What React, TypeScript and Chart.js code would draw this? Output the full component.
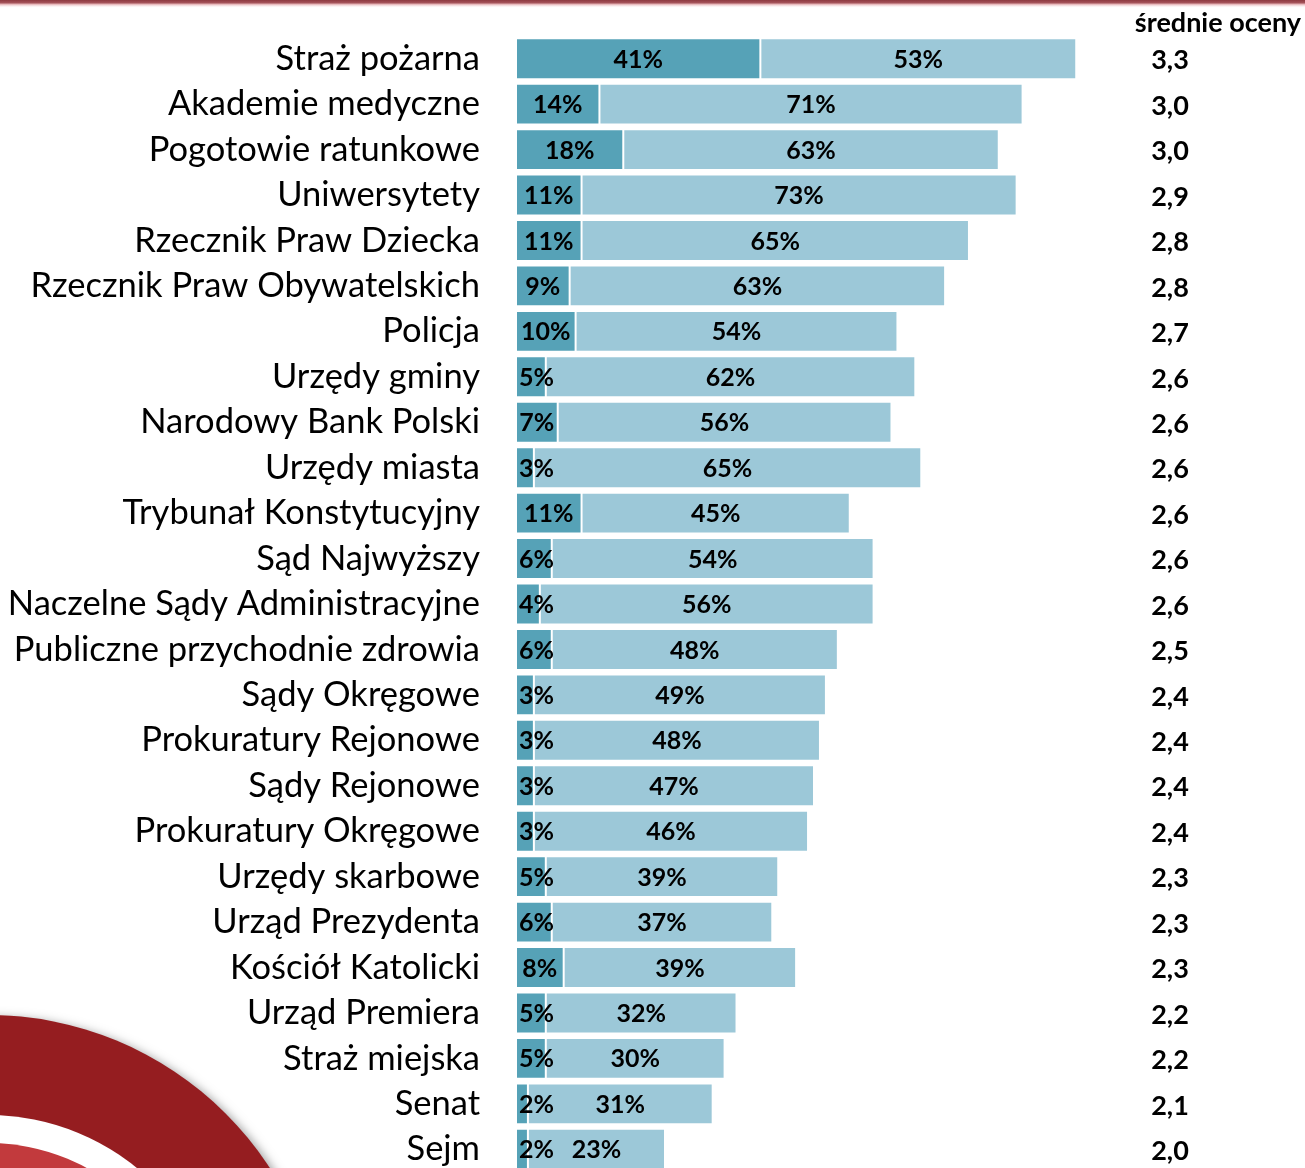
import React, { useEffect, useRef } from "react";
import { Chart, registerables } from "chart.js";

Chart.register(...registerables);

const categories = [
  "Straż pożarna",
  "Akademie medyczne",
  "Pogotowie ratunkowe",
  "Uniwersytety",
  "Rzecznik Praw Dziecka",
  "Rzecznik Praw Obywatelskich",
  "Policja",
  "Urzędy gminy",
  "Narodowy Bank Polski",
  "Urzędy miasta",
  "Trybunał Konstytucyjny",
  "Sąd Najwyższy",
  "Naczelne Sądy Administracyjne",
  "Publiczne przychodnie zdrowia",
  "Sądy Okręgowe",
  "Prokuratury Rejonowe",
  "Sądy Rejonowe",
  "Prokuratury Okręgowe",
  "Urzędy skarbowe",
  "Urząd Prezydenta",
  "Kościół Katolicki",
  "Urząd Premiera",
  "Straż miejska",
  "Senat",
  "Sejm",
];

const strongTrust = [41, 14, 18, 11, 11, 9, 10, 5, 7, 3, 11, 6, 4, 6, 3, 3, 3, 3, 5, 6, 8, 5, 5, 2, 2];
const ratherTrust = [53, 71, 63, 73, 65, 63, 54, 62, 56, 65, 45, 54, 56, 48, 49, 48, 47, 46, 39, 37, 39, 32, 30, 31, 23];
const averageScores = [
  "3,3", "3,0", "3,0", "2,9", "2,8", "2,8", "2,7", "2,6", "2,6", "2,6", "2,6", "2,6", "2,6",
  "2,5", "2,4", "2,4", "2,4", "2,4", "2,3", "2,3", "2,3", "2,2", "2,2", "2,1", "2,0",
];
const scoreHeader = "średnie oceny";

const DARK = "#56A2B7";
const LIGHT = "#9CC8D8";
const FONT = "Lato, 'Open Sans', sans-serif";

export default function App() {
  const ref = useRef<HTMLCanvasElement>(null);

  useEffect(() => {
    const canvas = ref.current;
    if (!canvas) return;

    const decor = {
      id: "decor",
      beforeDraw(chart: any) {
        const ctx = chart.ctx as CanvasRenderingContext2D;
        const W = chart.width;
        const H = chart.height;
        ctx.save();
        ctx.fillStyle = "#ffffff";
        ctx.fillRect(0, 0, W, H);
        // top red rule
        const g = ctx.createLinearGradient(0, 0, 0, 8);
        g.addColorStop(0, "#8E3A40");
        g.addColorStop(0.35, "#A5535A");
        g.addColorStop(0.55, "#E8B9BC");
        g.addColorStop(1, "rgba(255,255,255,0)");
        ctx.fillStyle = g;
        ctx.fillRect(0, 0, W, 8);
        // concentric rings in bottom-left corner
        const cx = -12;
        const cy = 1351;
        ctx.shadowColor = "rgba(0,0,0,0.35)";
        ctx.shadowBlur = 10;
        ctx.shadowOffsetX = 4;
        ctx.shadowOffsetY = 2;
        ctx.beginPath();
        ctx.arc(cx, cy, 336, 0, Math.PI * 2);
        ctx.fillStyle = "#951D20";
        ctx.fill();
        ctx.shadowColor = "rgba(0,0,0,0)";
        ctx.shadowBlur = 0;
        ctx.shadowOffsetX = 0;
        ctx.shadowOffsetY = 0;
        ctx.beginPath();
        ctx.arc(cx, cy, 236, 0, Math.PI * 2);
        ctx.fillStyle = "#ffffff";
        ctx.fill();
        ctx.beginPath();
        ctx.arc(cx, cy, 208, 0, Math.PI * 2);
        ctx.fillStyle = "#C23A3D";
        ctx.fill();
        ctx.restore();
      },
      afterDatasetsDraw(chart: any) {
        const ctx = chart.ctx as CanvasRenderingContext2D;
        const m0 = chart.getDatasetMeta(0);
        const m1 = chart.getDatasetMeta(1);
        ctx.save();
        ctx.fillStyle = "#000";
        ctx.textBaseline = "middle";
        ctx.textAlign = "center";
        ctx.font = `bold 25px ${FONT}`;
        m0.data.forEach((bar: any, i: number) => {
          const p = bar.getProps(["x", "y", "base"], true);
          const left = Math.min(p.x, p.base);
          const right = Math.max(p.x, p.base);
          const txt = `${strongTrust[i]}%`;
          const tw = ctx.measureText(txt).width;
          let tx = (left + right) / 2;
          if (tw + 6 > right - left) tx = left + tw / 2 + 3;
          ctx.fillText(txt, tx, p.y + 1);
        });
        m1.data.forEach((bar: any, i: number) => {
          const p = bar.getProps(["x", "y", "base"], true);
          const txt = `${ratherTrust[i]}%`;
          ctx.fillText(txt, (p.x + p.base) / 2, p.y + 1);
        });
        // average scores column
        ctx.font = `bold 27px ${FONT}`;
        m0.data.forEach((bar: any, i: number) => {
          const p = bar.getProps(["y"], true);
          ctx.fillText(averageScores[i], 1170, p.y + 2);
        });
        ctx.textAlign = "right";
        ctx.font = `bold 27px ${FONT}`;
        ctx.fillText(scoreHeader, 1301, 23);
        ctx.restore();
      },
    };

    const chart = new Chart(canvas, {
      type: "bar",
      data: {
        labels: categories,
        datasets: [
          {
            data: strongTrust,
            backgroundColor: DARK,
            borderColor: "rgba(255,255,255,0.5)",
            borderWidth: 1,
            borderSkipped: false,
            barPercentage: 0.9,
            categoryPercentage: 1,
          },
          {
            data: ratherTrust,
            backgroundColor: LIGHT,
            borderColor: "rgba(255,255,255,0.5)",
            borderWidth: 1,
            borderSkipped: false,
            barPercentage: 0.9,
            categoryPercentage: 1,
          },
        ],
      },
      options: {
        indexAxis: "y",
        responsive: false,
        maintainAspectRatio: false,
        animation: false,
        layout: { padding: { top: 36, right: 193, bottom: 0, left: 0 } },
        plugins: {
          legend: { display: false },
          tooltip: { enabled: false },
        },
        scales: {
          x: {
            stacked: true,
            min: 0,
            max: 100,
            display: false,
            afterFit(scale: any) {
              scale.height = 0;
            },
          },
          y: {
            stacked: true,
            grid: { display: false, drawTicks: false },
            border: { display: false },
            ticks: {
              autoSkip: false,
              padding: 36,
              color: "#000",
              font: { family: FONT, size: 34.5 },
            },
            afterFit(scale: any) {
              scale.width = 516;
              scale.paddingTop = 0;
              scale.paddingBottom = 0;
            },
          },
        },
      },
      plugins: [decor],
    } as any);

    return () => chart.destroy();
  }, []);

  return (
    <div
      style={{
        position: "fixed",
        left: 0,
        top: 0,
        width: 1305,
        height: 1168,
        overflow: "hidden",
        background: "#fff",
      }}
    >
      <canvas ref={ref} width={1305} height={1172} style={{ display: "block", width: 1305, height: 1172 }} />
    </div>
  );
}
